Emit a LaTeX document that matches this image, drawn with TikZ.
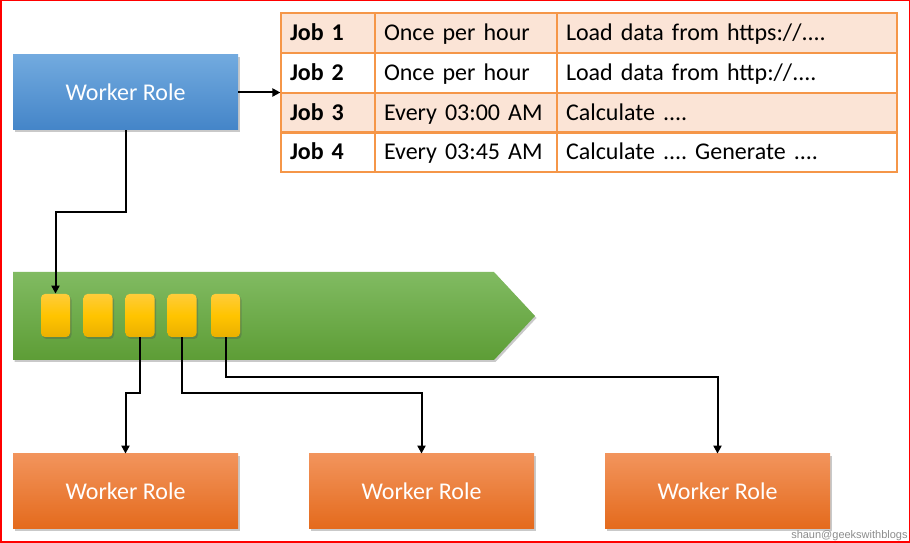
\documentclass[tikz,border=0pt]{standalone}
\usepackage{fontspec}
\setmainfont{Carlito}
\newfontfamily\markfont{Liberation Sans}
\usetikzlibrary{arrows.meta,shadows}
\frenchspacing

\definecolor{blueTop}{RGB}{114,170,223}
\definecolor{blueBot}{RGB}{68,133,200}
\definecolor{orangeTop}{RGB}{242,148,92}
\definecolor{orangeBot}{RGB}{228,106,28}
\definecolor{greenTop}{RGB}{129,187,98}
\definecolor{greenBot}{RGB}{93,157,54}
\definecolor{goldTop}{RGB}{255,204,58}
\definecolor{goldMid}{RGB}{255,196,0}
\definecolor{goldBot}{RGB}{234,176,0}
\definecolor{tableLine}{RGB}{245,150,72}
\definecolor{rowPeach}{RGB}{251,228,214}

\begin{document}
\begin{tikzpicture}[
       x=1pt,y=1pt,
       thick,
       >={Triangle[length=8pt,width=8pt]},
       softshadow/.style={
         drop shadow={shadow xshift=1.5pt,shadow yshift=-2pt,opacity=0.3,fill=black!70}
       },
       role/.style={
         rectangle,
         minimum width=225pt,
         minimum height=75pt,
         text=white,
         font=\fontsize{24}{28}\selectfont,
         softshadow
       },
       master/.style={role,top color=blueTop,bottom color=blueBot},
       worker/.style={role,top color=orangeTop,bottom color=orangeBot},
       msg/.style={
         rectangle,
         rounded corners=4pt,
         minimum width=29pt,
         minimum height=43pt,
         top color=goldTop,
         bottom color=goldBot,
         middle color=goldMid,
         softshadow
       },
       cell/.style={
         draw=tableLine,
         line width=1.2pt,
         minimum height=40pt,
         inner xsep=9pt,
         inner ysep=0pt,
         text height=19pt,
         text depth=3pt,
         align=left,
         font=\fontsize{24}{28}\selectfont
       },
       jobcell/.style={cell,text width=76pt,font=\fontsize{24}{28}\selectfont\bfseries},
       whencell/.style={cell,text width=164pt},
       whatcell/.style={cell,text width=322pt},
       peach/.style={fill=rowPeach},
       link/.style={line width=2pt}
     ]

       \useasboundingbox (0,0) rectangle (910,543);
       \draw[red,line width=1.5pt] (0.75,0.75) rectangle (909.25,542.25);

       \shade[top color=greenTop,bottom color=greenBot,softshadow]
         (13,271) -- (494,271) -- (535,227) -- (494,183) -- (13,183) -- cycle;

       \node (master) at (125.5,450.5) [master]{Worker Role};

       \node (j1) at (328,510) [jobcell,peach]{Job 1};
       \node (t1) at (466,510) [whencell,peach]{Once per hour};
       \node (d1) at (727,510) [whatcell,peach]{Load data from https://....};
       \node (j2) at (328,470) [jobcell]{Job 2};
       \node (t2) at (466,470) [whencell]{Once per hour};
       \node (d2) at (727,470) [whatcell]{Load data from http://....};
       \node (j3) at (328,430) [jobcell,peach]{Job 3};
       \node (t3) at (466,430) [whencell,peach]{Every 03:00 AM};
       \node (d3) at (727,430) [whatcell,peach]{Calculate ....};
       \node (j4) at (328,391) [jobcell]{Job 4};
       \node (t4) at (466,391) [whencell]{Every 03:45 AM};
       \node (d4) at (727,391) [whatcell]{Calculate .... Generate ....};

       \node (q1) at (55.5,227.5) [msg]{};
       \node (q2) at (98,227.5) [msg]{};
       \node (q3) at (140,227.5) [msg]{};
       \node (q4) at (182,227.5) [msg]{};
       \node (q5) at (225.5,227.5) [msg]{};

       \node (w1) at (125.5,51.5) [worker]{Worker Role};
       \node (w2) at (421.5,51.5) [worker]{Worker Role};
       \node (w3) at (717.5,51.5) [worker]{Worker Role};

       \node (mark) at (908,7) [anchor=east,inner sep=0pt,text=black!45,
         font=\markfont\fontsize{11}{13}\selectfont]{shaun@geekswithblogs};

       \draw[link,->] (master.east) -- (master.east -| j2.west);
       \draw[link,->] (master.south) -- ++(0,-82) -| (q1.north);

       \draw[link,->] (q3.south) -- ++(0,-56) -| (w1.north);
       \draw[link,->] (q4.south) -- ++(0,-56) -| (w2.north);
       \draw[link,->] (q5.south) -- ++(0,-40) -| (w3.north);

\end{tikzpicture}
\end{document}
